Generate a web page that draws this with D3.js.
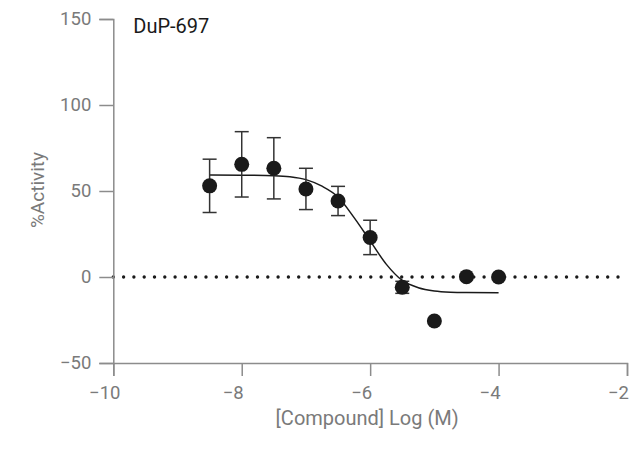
<!DOCTYPE html>
<html>
<head>
<meta charset="utf-8">
<script src="https://cdn.jsdelivr.net/npm/d3@7"></script>
<style>
  body { margin: 0; background: #fff; }
  svg text { font-family: Roboto, "Noto Sans", sans-serif; }
</style>
</head>
<body>
<div id="chart"></div>
<script>
// measured points (log concentration, % activity, error)
var logConc = [-8.5, -8, -7.5, -7, -6.5, -6, -5.5, -5, -4.5, -4];
var activity = [53, 65.5, 63.2, 51.2, 44.2, 23, -6, -25.6, 0.2, 0];
var errors = [15.5, 19, 17.8, 12, 8.5, 10, 3.5, 0, 0, 0];

// fitted curve
var curveX = [-8.5, -8, -7.5, -7.25, -7, -6.75, -6.5, -6.25, -6, -5.75, -5.5, -5.25, -5, -4.75, -4.5, -4];
var curveY = [59.3, 59.2, 58.9, 58.3, 56.6, 52.8, 46.5, 34.5, 21, 7.5, -2, -6.2, -8.1, -8.8, -9.0, -9.1];

var xTicks = [-10, -8, -6, -4, -2];
var yTicks = [-50, 0, 50, 100, 150];
var title = "DuP-697";

var width = 644, height = 456;
var margin = { top: 19, right: 17, bottom: 93, left: 113.3 };
var w = width - margin.left - margin.right,
    h = height - margin.top - margin.bottom;

var x = d3.scaleLinear().domain([-10, -2]).range([0, w]);
var y = d3.scaleLinear().domain([-50, 150]).range([h, 0]);

var svg = d3.select("#chart").append("svg")
    .attr("width", width)
    .attr("height", height)
    .append("g")
    .attr("transform", "translate(" + margin.left + "," + margin.top + ")");

// zero reference line (dotted)
svg.append("line")
    .attr("x1", x(-10)).attr("x2", x(-2.1))
    .attr("y1", y(0)).attr("y2", y(0))
    .attr("stroke", "#1a1a1a")
    .attr("stroke-width", 3.4)
    .attr("stroke-linecap", "round")
    .attr("stroke-dasharray", "0,10.3");

// x axis
var xAxis = svg.append("g")
    .attr("transform", "translate(0," + h + ")")
    .call(d3.axisBottom(x).tickValues(xTicks).tickSize(13).tickPadding(10));
xAxis.selectAll("text").attr("dx", -9);

// y axis
var yAxis = svg.append("g")
    .call(d3.axisLeft(y).tickValues(yTicks).tickSize(14).tickPadding(8));

[xAxis, yAxis].forEach(function (a) {
    a.select(".domain").attr("stroke", "#8c8c8c").attr("stroke-width", 1.5);
    a.selectAll(".tick line").attr("stroke", "#8c8c8c").attr("stroke-width", 1.5);
    a.selectAll("text").attr("fill", "#7a7a7a").style("font-size", "18.5px");
});

// fitted curve
var line = d3.line()
    .x(function (d, i) { return x(curveX[i]); })
    .y(function (d) { return y(d); })
    .curve(d3.curveMonotoneX);
svg.append("path")
    .datum(curveY)
    .attr("fill", "none")
    .attr("stroke", "#1a1a1a")
    .attr("stroke-width", 1.5)
    .attr("d", line);

// error bars
var bars = svg.selectAll(".err")
    .data(logConc.map(function (d, i) { return i; }).filter(function (i) { return errors[i] > 0; }))
    .enter().append("g")
    .attr("class", "err")
    .attr("stroke", "#333")
    .attr("stroke-width", 1.5);
bars.append("line")
    .attr("x1", function (i) { return x(logConc[i]); })
    .attr("x2", function (i) { return x(logConc[i]); })
    .attr("y1", function (i) { return y(activity[i] + errors[i]); })
    .attr("y2", function (i) { return y(activity[i] - errors[i]); });
[1, -1].forEach(function (s) {
    bars.append("line")
        .attr("x1", function (i) { return x(logConc[i]) - 7; })
        .attr("x2", function (i) { return x(logConc[i]) + 7; })
        .attr("y1", function (i) { return y(activity[i] + s * errors[i]); })
        .attr("y2", function (i) { return y(activity[i] + s * errors[i]); });
});

// points
svg.selectAll(".dot")
    .data(activity)
    .enter().append("circle")
    .attr("class", "dot")
    .attr("cx", function (d, i) { return x(logConc[i]); })
    .attr("cy", function (d) { return y(d); })
    .attr("r", 7.5)
    .attr("fill", "#1a1a1a");

// title
svg.append("text")
    .attr("x", 20)
    .attr("y", 14)
    .attr("fill", "#1a1a1a")
    .style("font-size", "20px")
    .text(title);

// axis titles
svg.append("text")
    .attr("x", x(-6) - 3)
    .attr("y", h + 62)
    .attr("text-anchor", "middle")
    .attr("fill", "#7a7a7a")
    .style("font-size", "20px")
    .text("[Compound] Log (M)");

svg.append("text")
    .attr("transform", "translate(" + (-69) + "," + (y(50) - 1) + ") rotate(-90)")
    .attr("text-anchor", "middle")
    .attr("fill", "#7a7a7a")
    .style("font-size", "19px")
    .text("%Activity");
</script>
</body>
</html>
